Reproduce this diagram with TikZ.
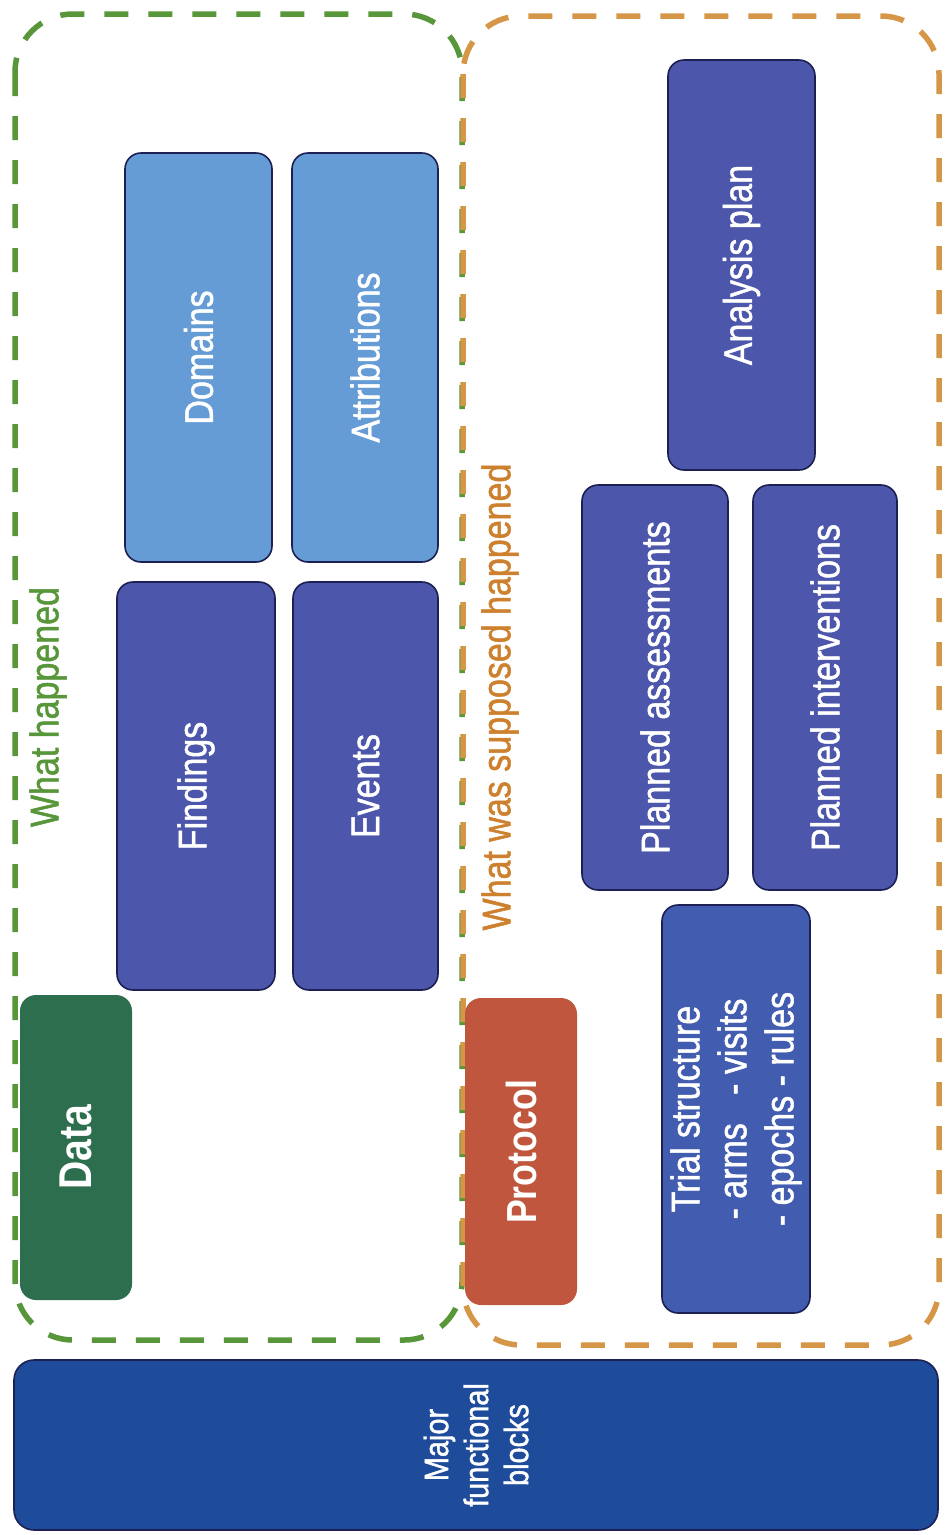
\documentclass[tikz,border=0pt]{standalone}
\usepackage{fontspec}
\setmainfont{Liberation Sans}
\newfontfamily\nar[FakeStretch=0.85,FakeBold=1.2]{Liberation Sans}
\newfontfamily\narbf[FakeStretch=0.85]{Liberation Sans Bold}
\usetikzlibrary{positioning}

\definecolor{grpgreen}{RGB}{88,150,58}
\definecolor{grporange}{RGB}{214,150,72}
\definecolor{txtorange}{RGB}{205,128,45}
\definecolor{majorblue}{RGB}{30,76,155}
\definecolor{datagreen}{RGB}{45,110,78}
\definecolor{protored}{RGB}{192,86,62}
\definecolor{lightblk}{RGB}{102,156,214}
\definecolor{darkblk}{RGB}{76,86,170}
\definecolor{trialblk}{RGB}{66,92,176}
\definecolor{edgenavy}{RGB}{28,32,82}

\tikzset{
  group/.style={line width=5.5pt, dash pattern=on 24pt off 20pt, rounded corners=58pt},
  blk/.style={rounded corners=16pt, draw=edgenavy, line width=1.6pt, rotate=90,
              text=white, align=center, inner sep=0pt,
              font=\nar\fontsize{40}{47}\selectfont},
  head/.style={rotate=90, inner sep=0pt, font=\nar\fontsize{40}{46}\selectfont},
}

\begin{document}
\begin{tikzpicture}[x=1pt, y=-1pt]
\useasboundingbox[fill=white] (0,0) rectangle (945,1535);

% dashed groups
\draw[group, draw=grpgreen]  (15,14) rectangle (462,1340);
\draw[group, draw=grporange] (463,16) rectangle (939,1345);

\node[head, text=grpgreen]  (whathap) at (48,707) {What happened};
\node[head, text=txtorange] (whatsup) at (500,697) {What was supposed happened};

% what happened
\node[blk, fill=datagreen, draw=none, minimum width=305pt, minimum height=112pt,
      font=\narbf\fontsize{46}{52}\selectfont] (data) at (76,1147.5) {Data};
\node[blk, fill=lightblk, minimum width=409pt, minimum height=147pt] (domains) at (198.5,357.5) {Domains};
\node[blk, fill=lightblk, minimum width=409pt, minimum height=146pt] (attrib) at (365,357.5) {Attributions};
\node[blk, fill=darkblk, minimum width=408pt, minimum height=158pt] (findings) at (196,786) {Findings};
\node[blk, fill=darkblk, minimum width=408pt, minimum height=145pt] (events) at (365.5,786) {Events};

% what was supposed to happen
\node[blk, fill=protored, draw=none, minimum width=307pt, minimum height=112pt,
      font=\narbf\fontsize{42}{48}\selectfont] (protocol) at (521,1151.5) {Protocol};
\node[blk, fill=darkblk, minimum width=410pt, minimum height=147pt] (analysis) at (741.5,265) {Analysis plan};
\node[blk, fill=darkblk, minimum width=405pt, minimum height=146pt] (passess) at (655,687.5) {Planned assessments};
\node[blk, fill=darkblk, minimum width=405pt, minimum height=144pt] (pinterv) at (825,687.5) {Planned interventions};
\node[blk, fill=trialblk, minimum width=408pt, minimum height=148pt] (trial) at (736,1109)
  {Trial structure\\- arms\ \ \ - visits\\- epochs - rules};

% bottom band
\node[blk, fill=majorblue, rounded corners=20pt, minimum width=170pt, minimum height=924pt,
      font=\nar\fontsize{34}{40}\selectfont] (major) at (476,1445) {Major\\functional\\blocks};
\end{tikzpicture}
\end{document}
